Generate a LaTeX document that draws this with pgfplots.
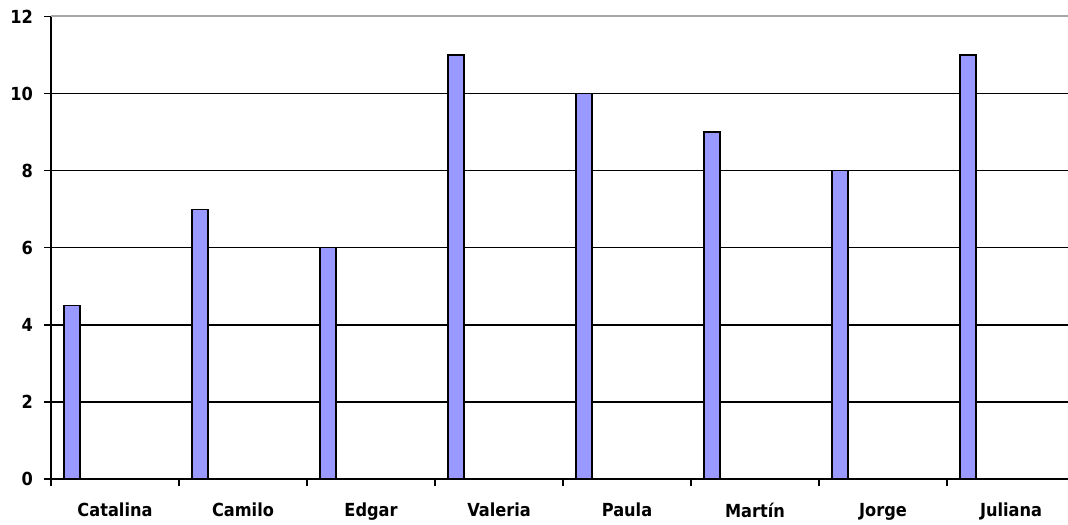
\documentclass[border=0pt]{standalone}
\usepackage{fontspec}
\setmainfont{DejaVu Sans Condensed}
\usepackage{pgfplots}
\pgfplotsset{compat=1.18}
\definecolor{barblue}{RGB}{153,153,255}
\begin{document}
\begin{tikzpicture}
\path[use as bounding box] (0,0) rectangle (534pt,262pt);
\begin{axis}[
  at={(25.5pt,22.5pt)}, anchor=south west,
  scale only axis, width=508.5pt, height=231.25pt,
  xmin=0, xmax=7.945, ymin=0, ymax=12,
  axis x line=bottom, axis y line=left,
  axis line style={-, black, line width=0.8pt},
  ytick={0,2,...,10},
  extra y ticks={12}, extra y tick labels={12},
  extra y tick style={grid style={gray!70, line width=1pt}},
  ymajorgrids, grid style={black, line width=0.7pt},
  xtick={0,1,...,7},
  xticklabels={Catalina,Camilo,Edgar,Valeria,Paula,Martín,Jorge,Juliana},
  xticklabel style={xshift=32pt, yshift=-5pt},
  yticklabel style={xshift=-2pt},
  tick align=outside, major tick length=3.5pt,
  tick style={black, line width=0.75pt},
  tick label style={font=\fontsize{9}{10}\selectfont\bfseries},
  /pgf/number format/assume math mode=true,
  clip=false,
]
\addplot[ybar, bar width=0.125, draw=black, line width=0.65pt, fill=barblue]
  coordinates {(0.164,4.5) (1.164,7) (2.164,6) (3.164,11) (4.164,10) (5.164,9) (6.164,8) (7.164,11)};
\end{axis}
\end{tikzpicture}
\end{document}
